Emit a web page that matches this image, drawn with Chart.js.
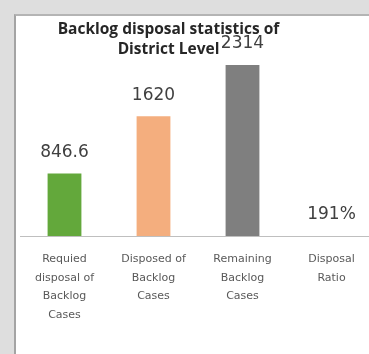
<!DOCTYPE html>
<html>
<head>
<meta charset="utf-8">
<script src="https://cdn.jsdelivr.net/npm/chart.js@4"></script>
<style>
  html, body { margin: 0; padding: 0; overflow: hidden; }
  html { background: #dedede; }
  body { height: 354px; position: relative; }
  #panel {
    position: absolute; left: 14px; top: 14px; right: -60px; height: 400px;
    background: #fff; border-left: 2px solid #a4a4a4; border-top: 2px solid #b4b4b4;
  }
  #wrap { position: absolute; left: 15px; top: 15px; width: 361px; height: 315px; }
</style>
</head>
<body>
<div id="panel"></div>
<div id="wrap"><canvas id="c"></canvas></div>
<script>
  // Data
  const CATEGORIES = [
    ['Requied', 'disposal of', 'Backlog', 'Cases'],
    ['Disposed of', 'Backlog', 'Cases'],
    ['Remaining', 'Backlog', 'Cases'],
    ['Disposal', 'Ratio'],
  ];
  const VALUES = [846.6, 1620, 2314, 1.91];
  const VALUE_LABELS = ['846.6', '1620', '2314', '191%'];
  const COLORS = ['#63a83b', '#f4ae7e', '#7f7f7f', '#7f7f7f'];
  const TITLE = ['Backlog disposal statistics of', 'District Level'];

  const TEXT = '#404040';

  // value labels above each bar
  const valueLabels = {
    id: 'valueLabels',
    afterDatasetsDraw(chart) {
      const ctx = chart.ctx;
      const meta = chart.getDatasetMeta(0);
      ctx.save();
      ctx.font = "17px 'DejaVu Sans'";
      ctx.fillStyle = TEXT;
      ctx.textAlign = 'center';
      ctx.textBaseline = 'middle';
      meta.data.forEach((bar, i) => {
        ctx.fillText(VALUE_LABELS[i], bar.x, bar.y - 21);
      });
      ctx.restore();
    }
  };

  // title drawn over the plot, as in the original
  const overTitle = {
    id: 'overTitle',
    afterDraw(chart) {
      const ctx = chart.ctx;
      ctx.save();
      ctx.font = "bold 15.5px 'Open Sans'";
      ctx.fillStyle = '#262626';
      ctx.textAlign = 'center';
      ctx.textBaseline = 'middle';
      ctx.fillText(TITLE[0], 153.5, 15);
      ctx.fillText(TITLE[1], 153.5, 35);
      ctx.restore();
    }
  };

  new Chart(document.getElementById('c'), {
    type: 'bar',
    data: {
      labels: CATEGORIES,
      datasets: [{
        data: VALUES,
        backgroundColor: COLORS,
        barPercentage: 0.76,
        categoryPercentage: 0.5,
      }],
    },
    options: {
      responsive: true, maintainAspectRatio: false, animation: false,
      layout: { padding: { left: 5, right: 0, top: 14, bottom: 0 } },
      plugins: { legend: { display: false }, tooltip: { enabled: false }, title: { display: false } },
      scales: {
        x: {
          grid: { display: false },
          border: { color: '#bfbfbf', width: 1 },
          ticks: {
            color: '#595959', maxRotation: 0, autoSkip: false, padding: 6,
            font: { family: 'DejaVu Sans', size: 11, lineHeight: 1.68 },
          },
        },
        y: { display: false, min: 0, max: 2800 },
      },
    },
    plugins: [valueLabels, overTitle],
  });
</script>
</body>
</html>
